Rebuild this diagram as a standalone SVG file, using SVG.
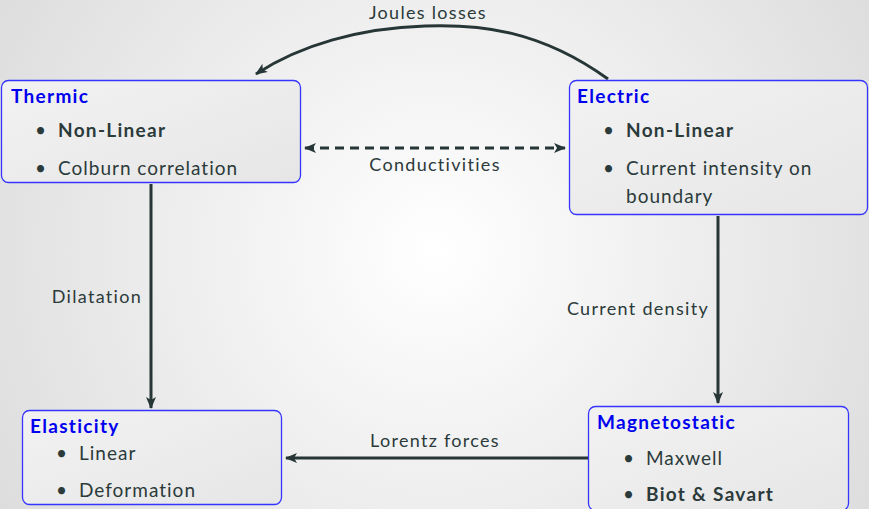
<svg xmlns="http://www.w3.org/2000/svg" width="869" height="509" viewBox="0 0 869 509">
<defs>
<radialGradient id="bg" cx="435" cy="250" r="520" gradientUnits="userSpaceOnUse">
<stop offset="0" stop-color="#ffffff"/>
<stop offset="1" stop-color="#dcdcdc"/>
</radialGradient>
<linearGradient id="boxfill" x1="0" y1="0" x2="1" y2="1">
<stop offset="0" stop-color="#f2f2f2"/>
<stop offset="1" stop-color="#e6e6e6"/>
</linearGradient>
<marker id="ah" viewBox="0 0 12 10" refX="11" refY="5" markerWidth="12" markerHeight="10" markerUnits="userSpaceOnUse" orient="auto-start-reverse">
<path d="M0,0 L12,5 L0,10 L3,5 Z" fill="#263535"/>
</marker>
<style>
.box{fill:url(#boxfill);stroke:#3535ff;stroke-width:1.3}
.title{font-family:Lato,"Open Sans",sans-serif;font-weight:bold;font-size:19px;letter-spacing:1.3px;fill:#0000ee}
.t{font-family:Lato,"Open Sans",sans-serif;font-size:19px;letter-spacing:1px;fill:#2b3a3a}
.b{font-weight:bold;letter-spacing:1.3px}
.lbl{font-family:Lato,"Open Sans",sans-serif;font-size:18px;letter-spacing:1.3px;fill:#2b3a3a}
.con{fill:none;stroke:#263535;stroke-width:3}
</style>
</defs>
<rect x="0" y="0" width="869" height="509" fill="url(#bg)"/>
<g id="connectors">
<path class="con" d="M608,79 C540,30 480,24 425,26 C360,28 300,45 256,74" marker-end="url(#ah)"/>
<line class="con" x1="305" y1="148" x2="565" y2="148" stroke-dasharray="9,6" marker-start="url(#ah)" marker-end="url(#ah)"/>
<line class="con" x1="151" y1="184" x2="151" y2="408" marker-end="url(#ah)"/>
<line class="con" x1="718" y1="216" x2="718" y2="403" marker-end="url(#ah)"/>
<line class="con" x1="588" y1="458" x2="286" y2="458" marker-end="url(#ah)"/>
<text class="lbl" x="428" y="19" text-anchor="middle">Joules losses</text>
<text class="lbl" x="435" y="171" text-anchor="middle">Conductivities</text>
<text class="lbl" x="142" y="303" text-anchor="end">Dilatation</text>
<text class="lbl" x="709" y="315" text-anchor="end">Current density</text>
<text class="lbl" x="435" y="447" text-anchor="middle">Lorentz forces</text>
</g>
<g id="thermic">
<rect class="box" x="1.5" y="80.5" width="299" height="102" rx="7"/>
<text class="title" x="11" y="103">Thermic</text>
<text class="t" x="35" y="137">•</text>
<text class="t b" x="58" y="137">Non-Linear</text>
<text class="t" x="35" y="175">•</text>
<text class="t" x="58" y="175">Colburn correlation</text>
</g>
<g id="electric">
<rect class="box" x="569.5" y="80.5" width="298" height="134" rx="7"/>
<text class="title" x="577" y="103">Electric</text>
<text class="t" x="603" y="137">•</text>
<text class="t b" x="626" y="137">Non-Linear</text>
<text class="t" x="603" y="175">•</text>
<text class="t" x="626" y="175">Current intensity on</text>
<text class="t" x="626" y="203">boundary</text>
</g>
<g id="elasticity">
<rect class="box" x="22.5" y="410.5" width="259" height="94" rx="7"/>
<text class="title" x="30" y="433">Elasticity</text>
<text class="t" x="56" y="460">•</text>
<text class="t" x="79" y="460">Linear</text>
<text class="t" x="56" y="497">•</text>
<text class="t" x="79" y="497">Deformation</text>
</g>
<g id="magnetostatic">
<rect class="box" x="588.5" y="406.5" width="260" height="104" rx="7"/>
<text class="title" x="597" y="429">Magnetostatic</text>
<text class="t" x="623" y="465">•</text>
<text class="t" x="646" y="465">Maxwell</text>
<text class="t" x="623" y="501">•</text>
<text class="t b" x="646" y="501">Biot &amp; Savart</text>
</g>
</svg>
